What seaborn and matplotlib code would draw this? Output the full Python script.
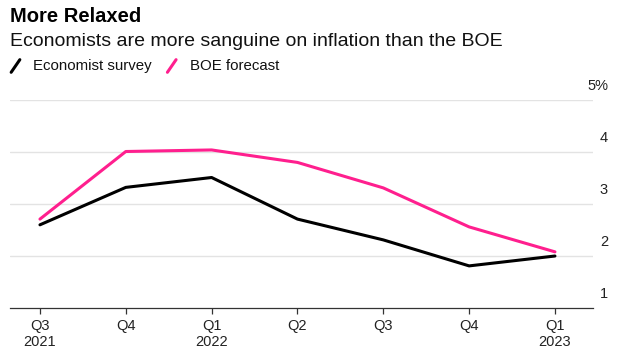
import pandas as pd
import seaborn as sns
import matplotlib.pyplot as plt
from matplotlib.lines import Line2D

# data
quarters = ["Q3\n2021", "Q4", "Q1\n2022", "Q2", "Q3", "Q4", "Q1\n2023"]
economist = [2.6, 3.32, 3.51, 2.71, 2.31, 1.81, 2.0]
boe = [2.71, 4.01, 4.04, 3.8, 3.31, 2.56, 2.08]
y_ticks = [1, 2, 3, 4, 5]
y_labels = ["1", "2", "3", "4", "5%"]

df = pd.DataFrame({
    "pos": list(range(len(quarters))) * 2,
    "value": economist + boe,
    "series": ["Economist survey"] * len(quarters) + ["BOE forecast"] * len(quarters),
})

sns.set_style("white")
plt.rcParams["font.family"] = ["Liberation Sans", "DejaVu Sans"]

BLACK = "#000000"
PINK = "#ff1f8e"
GRID = "#e3e3e3"

fig = plt.figure(figsize=(6.2, 3.51), dpi=100)
ax = fig.add_axes([0.016, 0.1225, 0.94, 0.5925])

sns.lineplot(data=df, x="pos", y="value", hue="series",
             palette={"Economist survey": BLACK, "BOE forecast": PINK},
             linewidth=2.2, legend=False, ax=ax, zorder=3)

ax.set_xlim(-0.35, 6.44)
ax.set_ylim(1, 5)
ax.set_xlabel("")
ax.set_ylabel("")

# gridlines
for v in y_ticks[1:]:
    ax.axhline(v, color=GRID, linewidth=1.0, zorder=1)

# y labels on the right, sitting above the gridlines
ax.set_yticks([])
for v, lab in zip(y_ticks, y_labels):
    ax.annotate(lab, xy=(1.0, v), xycoords=("axes fraction", "data"),
                xytext=(11, 5), textcoords="offset points",
                ha="right", va="bottom", fontsize=10.5, color="#222222")

ax.set_xticks(range(len(quarters)))
ax.set_xticklabels(quarters, fontsize=10.5, color="#222222", linespacing=1.2)
ax.tick_params(axis="x", direction="out", length=4, width=0.9, color="#333333", pad=4,
               bottom=True)

for s in ["top", "right", "left"]:
    ax.spines[s].set_visible(False)
ax.spines["bottom"].set_color("#333333")
ax.spines["bottom"].set_linewidth(0.9)

# title block
fig.text(0.016, 0.952, "More Relaxed", fontsize=14.5, fontweight="bold", va="center",
         color="#000000")
fig.text(0.016, 0.883, "Economists are more sanguine on inflation than the BOE",
         fontsize=14, va="center", color="#111111")

# legend with slash markers
leg_y = 0.812
for x0, col, lab in [(0.018, BLACK, "Economist survey"), (0.27, PINK, "BOE forecast")]:
    fig.add_artist(Line2D([x0, x0 + 0.014], [leg_y - 0.018, leg_y + 0.018],
                          color=col, linewidth=2.2, transform=fig.transFigure))
    fig.text(x0 + 0.036, leg_y, lab, fontsize=10.8, va="center", color="#111111")

fig.savefig("out.png", dpi=100)
